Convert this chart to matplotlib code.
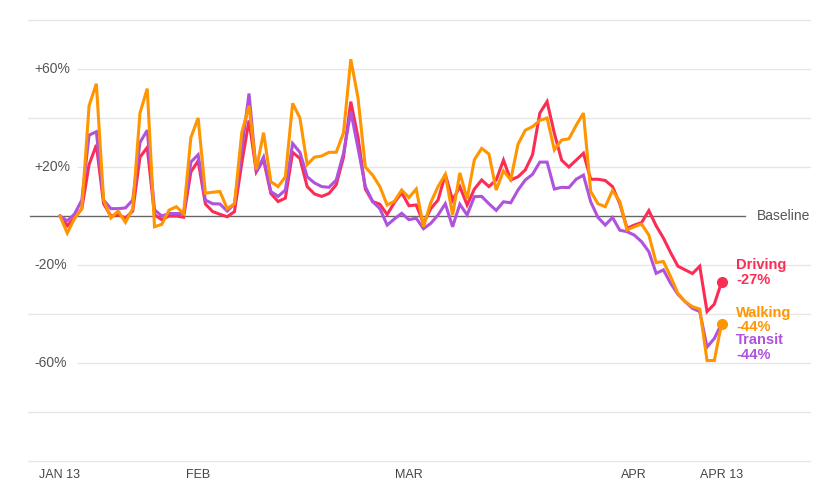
import matplotlib
matplotlib.use("Agg")
import matplotlib.pyplot as plt
import matplotlib.transforms as mtransforms
import pandas as pd
import numpy as np

plt.rcParams['font.family'] = ['Liberation Sans', 'DejaVu Sans']

dates = pd.date_range('2020-01-13', periods=92, freq='D')

driving = [0, -4, -0.8, 3, 21, 29, 5, 0, 0.5, -0.8, 2, 24, 28, 0.5, -1.5, 0, 0, -0.5, 18, 22.5,
           4.9, 1.8, 0.7, -0.3, 1.8, 21.5, 39, 18, 23, 9.2, 5.9, 7.3, 26, 23.5, 12, 9, 8, 9.2, 12.8, 24,
           46.7, 32, 11, 5.9, 4.8, 0.6, 5.5, 9.5, 4.2, 4.5, -3, 3, 6.5, 17, 6.5, 12, 4.5, 11, 14.7, 12,
           14.7, 22.8, 14.7, 16, 18.8, 25, 42, 46.7, 33.7, 22.8, 20, 22.8, 25.6, 15, 15, 14.5, 12, 5, -5, -3.7,
           -2.7, 2.2, -4, -9, -15, -20.5, -22, -23.5, -20.5, -39, -36, -27]

walking = [0, -7, -1, 3, 45, 54, 6.5, -0.8, 2, -2.6, 3, 42, 52, -4.4, -3.4, 2.4, 3.8, 1, 32, 40,
           9.3, 9.7, 10, 3, 5, 34, 45, 19, 34, 14, 12, 16, 46, 40, 21, 24, 24.5, 26, 26, 34,
           64, 48, 20, 16.7, 12, 4.5, 6, 10.6, 7.5, 11, -4.4, 5.5, 12, 17, 0.4, 17.6, 7, 23, 27.6, 25.3,
           10.6, 18.4, 14.8, 29.3, 35, 36.5, 39, 40, 27, 31, 31.5, 37, 42, 10, 5, 3.8, 10.4, 6, -5.7, -4.4,
           -3.3, -7.8, -19, -18.6, -24.8, -31.6, -35, -37, -38, -59, -59, -44]

transit = [0, -2, 0.8, 6.5, 33, 34.4, 6.5, 3, 3, 3.3, 6.5, 30, 35, 2.5, 0, 1, 1, 1, 22, 25,
           6.5, 5, 4.9, 2, 5, 27, 50, 18, 24, 10, 8, 10.6, 29.6, 26, 16, 13.5, 12, 11.7, 14.7, 25.6,
           42.6, 27.6, 12, 5.9, 3, -3.7, -1.2, 1.1, -1.5, -0.9, -5.2, -3, 0.4, 5, -4.4, 4.8, 0.4, 7.9, 8, 5,
           2.3, 5.8, 5.4, 10.6, 14.7, 17, 22, 22, 11, 11.7, 11.6, 15, 16.7, 5.8, -0.6, -3.7, -0.6, -5.8, -6.4, -7.8,
           -10.5, -14.6, -23.4, -22, -27.5, -32, -35, -37.7, -39, -53.5, -50, -44]

grid_values = [80, 60, 40, 20, -20, -40, -60, -80, -100]
labeled_values = [60, 20, -20, -60]
y_labels = ['+60%', '+20%', '-20%', '-60%']
x_tick_dates = ['2020-01-13', '2020-02-01', '2020-03-01', '2020-04-01', '2020-04-13']
x_tick_labels = ['JAN 13', 'FEB', 'MAR', 'APR', 'APR 13']

C_DRIVE = '#fb2d55'
C_WALK = '#ff9500'
C_TRANSIT = '#af52de'

W, H = 826, 500
fig = plt.figure(figsize=(W / 100, H / 100), dpi=100)
ax = fig.add_axes([0, 0, 1, 1])
ax.set_axis_off()

# pixel calibration
x0_px, px_per_day = 60.0, 7.27
y0_px, px_per_pct = 216.0, 2.45
start = dates[0]
ax.set_xlim(start + pd.Timedelta(days=-x0_px / px_per_day),
            start + pd.Timedelta(days=(W - x0_px) / px_per_day))
ax.set_ylim((y0_px - H) / px_per_pct, y0_px / px_per_pct)

def fx(px):
    return px / W

for g in grid_values:
    xmin = fx(78) if g in labeled_values else fx(28)
    ax.axhline(g, xmin=xmin, xmax=fx(810), color='#e6e6e6', lw=1.0, zorder=1)
ax.axhline(0, xmin=fx(30), xmax=fx(745), color='#666666', lw=1.0, zorder=2)

trans_y = mtransforms.blended_transform_factory(ax.transAxes, ax.transData)
for v, lab in zip(labeled_values, y_labels):
    ax.text(fx(34), v, lab, transform=trans_y, ha='left', va='center',
            fontsize=10, color='#555555')
ax.text(fx(757), 0, 'Baseline', transform=trans_y, ha='left', va='center',
        fontsize=10, color='#555555')

trans_x = mtransforms.blended_transform_factory(ax.transData, ax.transAxes)
for d, lab in zip(x_tick_dates, x_tick_labels):
    ax.text(pd.Timestamp(d), 1 - 475 / H, lab, transform=trans_x, ha='center',
            va='center', fontsize=9, color='#444444')

lw = 2.2
ax.plot(dates, driving, color=C_DRIVE, lw=lw, zorder=3, solid_joinstyle='miter')
ax.plot(dates, transit, color=C_TRANSIT, lw=lw, zorder=4, solid_joinstyle='miter')
ax.plot(dates, walking, color=C_WALK, lw=lw, zorder=5, solid_joinstyle='miter')
ax.plot(dates[-1], driving[-1], 'o', color=C_DRIVE, ms=7, zorder=6)
ax.plot(dates[-1], walking[-1], 'o', color=C_WALK, ms=7, zorder=6)

lx = fx(736)
def ypx(p):
    return (y0_px - p) / px_per_pct
labels = [('Driving', driving, C_DRIVE, 265, 280),
          ('Walking', walking, C_WALK, 313, 327),
          ('Transit', transit, C_TRANSIT, 340, 355)]
for name, series, col, y1, y2 in labels:
    ax.text(lx, ypx(y1), name, transform=trans_y, color=col, fontsize=10.5,
            fontweight='bold', ha='left', va='center')
    ax.text(lx, ypx(y2), f'{series[-1]:.0f}%', transform=trans_y, color=col, fontsize=10.5,
            fontweight='bold', ha='left', va='center')

fig.savefig('out.png', dpi=100, facecolor='white')
